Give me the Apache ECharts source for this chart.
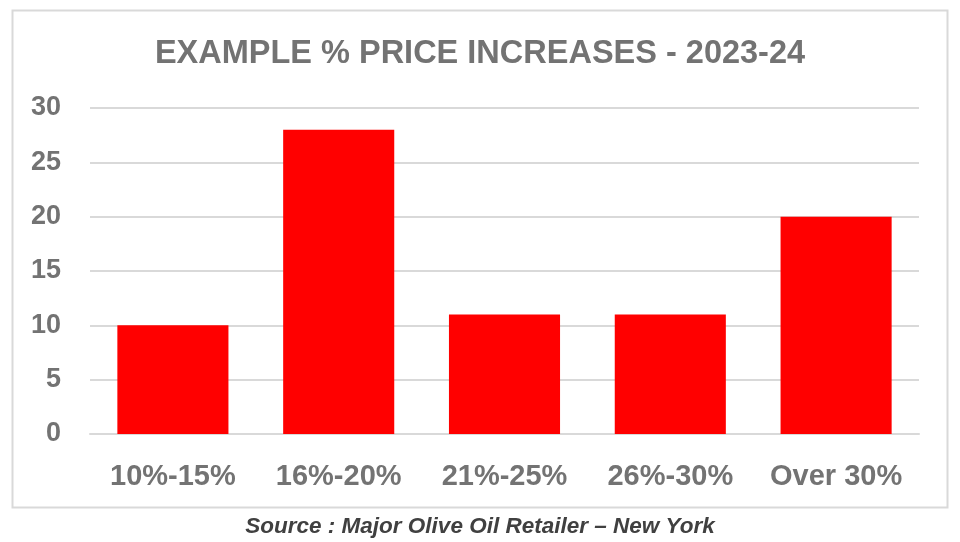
<!DOCTYPE html>
<html><head><meta charset="utf-8">
<script src="https://cdn.jsdelivr.net/npm/echarts@6/dist/echarts.min.js"></script>
<style>html,body{margin:0;padding:0;background:#fff}#c{width:960px;height:542px}</style>
</head><body><div id="c"></div>
<script>
const categories = ['10%-15%', '16%-20%', '21%-25%', '26%-30%', 'Over 30%'];
const values = [10, 28, 11, 11, 20];
const titleText = 'EXAMPLE % PRICE INCREASES - 2023-24';
const sourceText = 'Source : Major Olive Oil Retailer \u2013 New York';

const chart = echarts.init(document.getElementById('c'), null, {renderer: 'canvas'});
const gray = '#737373';
chart.setOption({
  animation: false,
  backgroundColor: '#fff',
  title: [{
    text: titleText, left: 'center', top: 33,
    textStyle: {fontFamily: 'Liberation Sans, Arial, sans-serif', fontWeight: 'bold', fontSize: 32.5, color: gray}
  }, {
    text: sourceText, left: 'center', top: 510,
    textStyle: {fontFamily: 'Liberation Sans, Arial, sans-serif', fontWeight: 'bold', fontStyle: 'italic', fontSize: 22.5, color: '#404040'}
  }],
  graphic: [{
    type: 'rect', shape: {x: 12.5, y: 10.5, width: 935, height: 497},
    style: {fill: null, stroke: '#d9d9d9', lineWidth: 2}, z: -1
  }],
  grid: {left: 90, right: 41, top: 108, bottom: 108, containLabel: false},
  xAxis: {
    type: 'category', data: categories,
    axisLine: {show: true, lineStyle: {color: '#d9d9d9', width: 2}},
    axisTick: {show: false},
    axisLabel: {interval: 0, fontFamily: 'Liberation Sans, Arial, sans-serif', fontWeight: 'bold', fontSize: 29, color: gray, margin: 28}
  },
  yAxis: {
    type: 'value', min: 0, max: 30, interval: 5,
    axisLine: {show: false}, axisTick: {show: false},
    splitLine: {lineStyle: {color: '#d9d9d9', width: 2}},
    axisLabel: {fontFamily: 'Liberation Sans, Arial, sans-serif', fontWeight: 'bold', fontSize: 27, color: gray, margin: 29}
  },
  series: [{
    type: 'bar', data: values, barWidth: '67%',
    itemStyle: {color: '#ff0000'}
  }]
});
</script></body></html>
